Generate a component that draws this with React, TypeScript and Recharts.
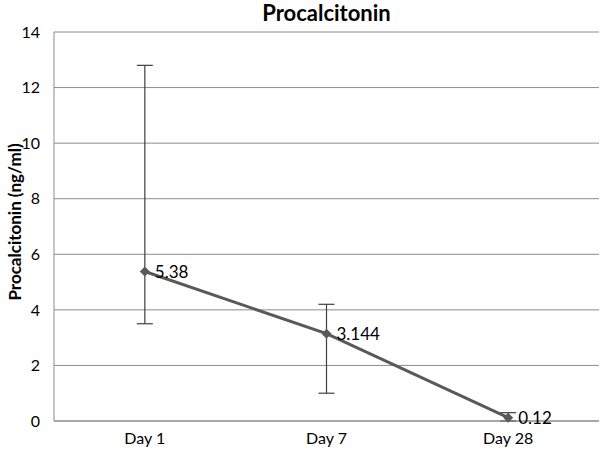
import React from "react";
import {
  ComposedChart,
  Line,
  XAxis,
  YAxis,
  CartesianGrid,
  ErrorBar,
  LabelList,
} from "recharts";

// values
const days = ["Day 1", "Day 7", "Day 28"];
const means = [5.38, 3.144, 0.12];
const lows = [3.5, 1.0, 0.0];
const highs = [12.8, 4.2, 0.3];
const yTicks = [0, 2, 4, 6, 8, 10, 12, 14];

const data = days.map((day, i) => ({
  day,
  value: means[i],
  err: [means[i] - lows[i], highs[i] - means[i]],
}));

const FONT = "Lato, 'Open Sans', sans-serif";
const GREY = "#595959";

// diamond marker like the Excel default
const Diamond = (props: any) => {
  const { cx, cy } = props;
  if (cx == null || cy == null) return null;
  const r = 5;
  return (
    <path
      d={`M${cx},${cy - r} L${cx + r},${cy} L${cx},${cy + r} L${cx - r},${cy} Z`}
      fill={GREY}
    />
  );
};

export default function App() {
  return (
    <div
      style={{
        position: "absolute",
        left: 0,
        top: 0,
        width: 600,
        height: 452,
        background: "#fff",
        fontFamily: FONT,
      }}
    >
      {/* title */}
      <div
        style={{
          position: "absolute",
          left: 54,
          width: 545,
          top: -1,
          textAlign: "center",
          fontSize: 22,
          fontWeight: 700,
          color: "#000",
        }}
      >
        Procalcitonin
      </div>
      {/* y axis title */}
      <div
        style={{
          position: "absolute",
          left: 14,
          top: 222,
          transform: "translate(-50%, -50%) rotate(-90deg)",
          whiteSpace: "nowrap",
          fontSize: 17,
          fontWeight: 700,
          color: "#000",
        }}
      >
        Procalcitonin (ng/ml)
      </div>
      <ComposedChart
        width={600}
        height={452}
        data={data}
        margin={{ top: 32, right: 1, bottom: 0, left: 0 }}
      >
        <CartesianGrid vertical={false} stroke="#8c8c8c" strokeWidth={1} />
        <XAxis
          dataKey="day"
          scale="band"
          height={31}
          axisLine={{ stroke: "#8c8c8c" }}
          tickLine={false}
          tick={{ fontSize: 16, fill: "#000", fontFamily: FONT }}
          tickMargin={6}
        />
        <YAxis
          width={54}
          domain={[0, 14]}
          ticks={yTicks}
          axisLine={{ stroke: "#8c8c8c" }}
          tickLine={false}
          tick={{ fontSize: 16, fill: "#000", fontFamily: FONT }}
          tickMargin={8}
        />
        <Line
          dataKey="value"
          stroke={GREY}
          strokeWidth={3}
          dot={<Diamond />}
          activeDot={false}
          isAnimationActive={false}
        >
          <ErrorBar
            dataKey="err"
            direction="y"
            width={8}
            stroke="#404040"
            strokeWidth={1.2}
          />
          <LabelList
            dataKey="value"
            position="right"
            offset={10}
            style={{ fontSize: 17, fill: "#000", fontFamily: FONT }}
          />
        </Line>
      </ComposedChart>
    </div>
  );
}
